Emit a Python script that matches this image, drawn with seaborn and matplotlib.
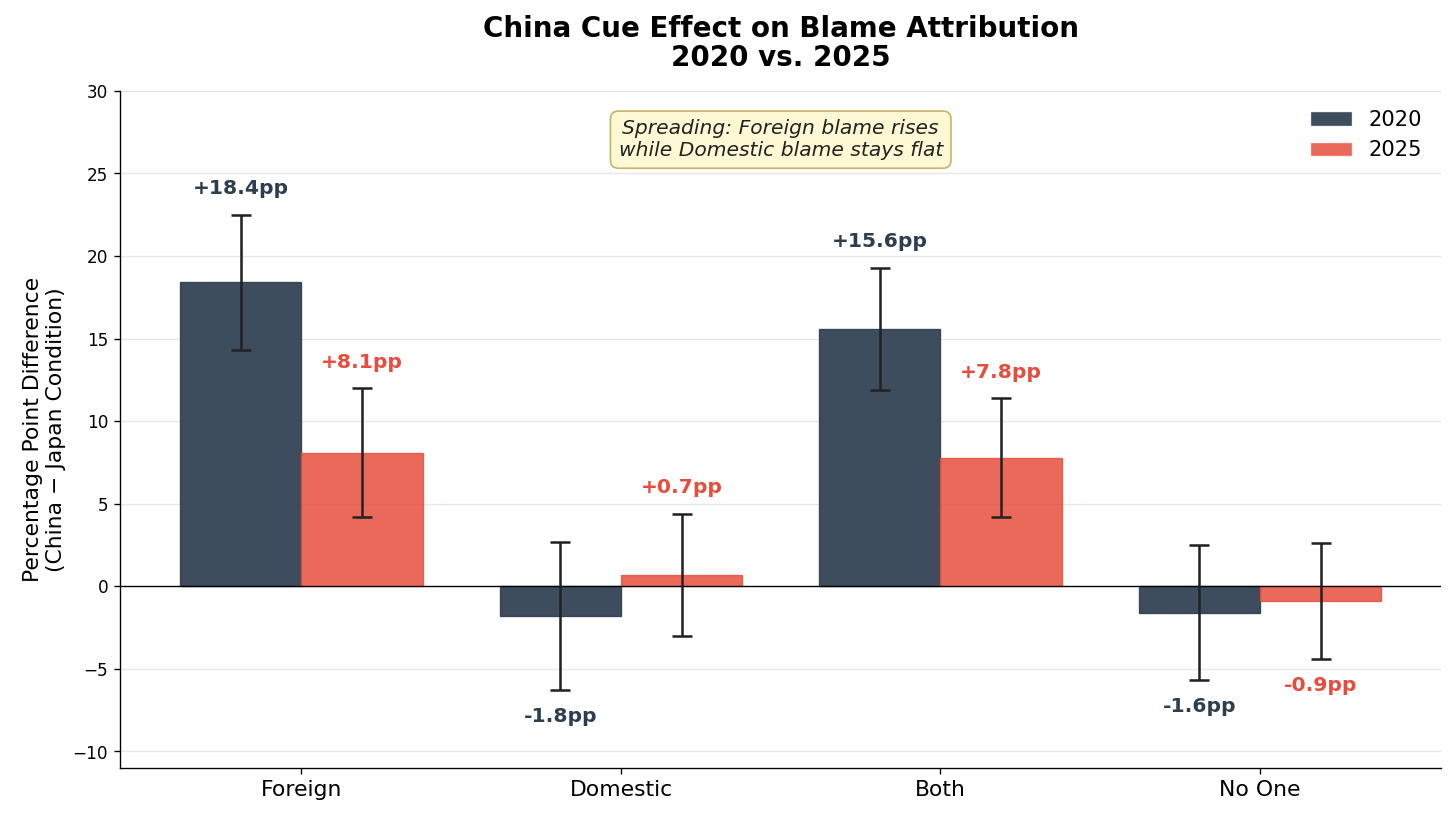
#!/usr/bin/env python3

import matplotlib.pyplot as plt
import pandas as pd
import seaborn as sns


categories = ["Foreign", "Domestic", "Both", "No One"]
years = ["2020", "2025"]
effect_2020 = [18.4, -1.8, 15.6, -1.6]
effect_2025 = [8.1, 0.7, 7.8, -0.9]
err_2020 = [4.1, 4.5, 3.7, 4.1]
err_2025 = [3.9, 3.7, 3.6, 3.5]

colours = {"2020": "#2C3E50", "2025": "#E74C3C"}
alphas = {"2020": 0.92, "2025": 0.84}

df = pd.DataFrame({
    "category": categories * 2,
    "year": ["2020"] * 4 + ["2025"] * 4,
    "effect": effect_2020 + effect_2025,
    "err": err_2020 + err_2025,
})

sns.set_style("ticks", {
    "axes.edgecolor": "black", "axes.labelcolor": "black", "text.color": "black",
    "xtick.color": "black", "ytick.color": "black",
    "xtick.major.size": 3.5, "ytick.major.size": 3.5,
})
plt.rcParams["font.family"] = ["DejaVu Sans"]

fig, ax = plt.subplots(figsize=(12, 6.726), dpi=1456 / 12)
fig.subplots_adjust(left=0.0824, right=0.990, top=0.8885, bottom=0.0588)

sns.barplot(data=df, x="category", y="effect", hue="year", hue_order=years,
            palette=colours, saturation=1, width=0.76,
            linewidth=0.8, errorbar=None, ax=ax, zorder=2)

for bars, year in zip(ax.containers, years):
    sub = df[df["year"] == year]
    for patch, val, err in zip(bars, sub["effect"], sub["err"]):
        patch.set_edgecolor(colours[year])
        patch.set_alpha(alphas[year])
        xc = patch.get_x() + patch.get_width() / 2
        ax.errorbar(xc, val, yerr=err, fmt="none", ecolor="#222222",
                    elinewidth=1.5, capsize=6, capthick=1.5, zorder=3)
        if val >= 0:
            ax.text(xc, val + err + 1.0, f"+{val:.1f}pp", ha="center", va="bottom",
                    fontsize=12, fontweight="bold", color=colours[year])
        else:
            ax.text(xc, val - err - 1.0, f"{val:.1f}pp", ha="center", va="top",
                    fontsize=12, fontweight="bold", color=colours[year])

ax.axhline(0, color="black", linewidth=0.8, zorder=2)
ax.set_ylim(-11, 30)
ax.set_yticks(range(-10, 31, 5))
ax.grid(axis="y", color="#dddddd", alpha=0.7, linewidth=0.8, zorder=0)
ax.set_axisbelow(True)
sns.despine(ax=ax)

ax.set_xlabel("")
ax.set_ylabel("Percentage Point Difference\n(China \u2212 Japan Condition)", fontsize=13)
ax.tick_params(axis="x", labelsize=13)
ax.tick_params(axis="y", labelsize=10)
ax.set_title("China Cue Effect on Blame Attribution\n2020 vs. 2025",
             fontsize=16.5, fontweight="bold", pad=15, linespacing=1.05)

leg = ax.legend(title=None, frameon=False, fontsize=12.5, loc="upper right")
for handle, year in zip(leg.legend_handles, years):
    handle.set_alpha(alphas[year])

ax.text(0.5, 0.928, "Spreading: Foreign blame rises\nwhile Domestic blame stays flat",
        transform=ax.transAxes, ha="center", va="center", fontsize=12,
        style="italic", color="#222222",
        bbox=dict(boxstyle="round,pad=0.4", facecolor="#FFF8D0",
                  edgecolor="#BFAE5E", alpha=0.9))

plt.savefig("out.png")
